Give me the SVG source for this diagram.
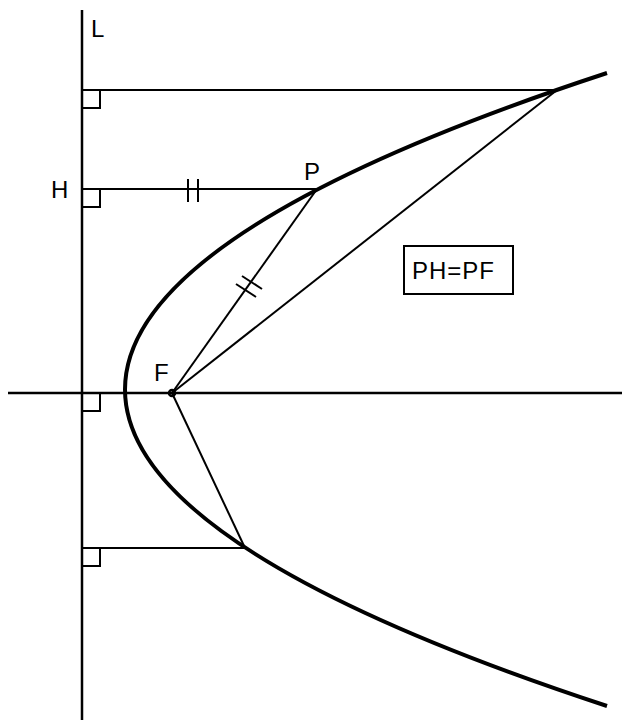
<svg xmlns="http://www.w3.org/2000/svg" width="625" height="720" viewBox="0 0 625 720">
<style>
.ln{stroke:#000;stroke-width:2;fill:none}
.ax{stroke:#000;stroke-width:2.5;fill:none}
.cv{stroke:#000;stroke-width:4;fill:none;stroke-linejoin:round}
.t{font-family:"Liberation Sans",Arial,sans-serif;font-size:24px;fill:#000}
</style>
<rect width="625" height="720" fill="#fff"/>
<g id="axes">
<line class="ax" x1="82" y1="10" x2="82" y2="720"/>
<line class="ax" x1="8" y1="393" x2="622" y2="393"/>
</g>
<g id="connectors">
<line class="ln" x1="82" y1="90" x2="557" y2="90"/>
<line class="ln" x1="82" y1="189" x2="317" y2="189"/>
<line class="ln" x1="82" y1="548" x2="245" y2="548"/>
<line class="ln" x1="172" y1="393" x2="317" y2="189"/>
<line class="ln" x1="172" y1="393" x2="557" y2="90"/>
<line class="ln" x1="172" y1="393" x2="245" y2="548"/>
</g>
<g id="right-angles">
<polyline class="ln" points="82,108 100,108 100,90"/>
<polyline class="ln" points="82,207 100,207 100,189"/>
<polyline class="ln" points="82,411 100,411 100,393"/>
<polyline class="ln" points="82,566 100,566 100,548"/>
</g>
<g id="ticks">
<line class="ln" x1="188" y1="179" x2="188" y2="202"/>
<line class="ln" x1="198" y1="179" x2="198" y2="202"/>
<line class="ln" x1="236" y1="284" x2="256" y2="297"/>
<line class="ln" x1="242" y1="276" x2="262" y2="289"/>
</g>
<g id="parabola">
<path class="cv" d="M607,73 Q-357,389.5 607,706"/>
</g>
<g id="focus">
<circle cx="172" cy="393" r="3" fill="none" stroke="#000" stroke-width="2.5"/>
<text class="t" x="154" y="381">F</text>
</g>
<g id="labels">
<text class="t" x="91" y="37">L</text>
<text class="t" x="51" y="198">H</text>
<text class="t" x="304" y="180">P</text>
</g>
<g id="box">
<rect x="404" y="246" width="109" height="48" fill="#fff" stroke="#000" stroke-width="2"/>
<text class="t" x="412" y="279" textLength="82" lengthAdjust="spacing">PH=PF</text>
</g>
</svg>
